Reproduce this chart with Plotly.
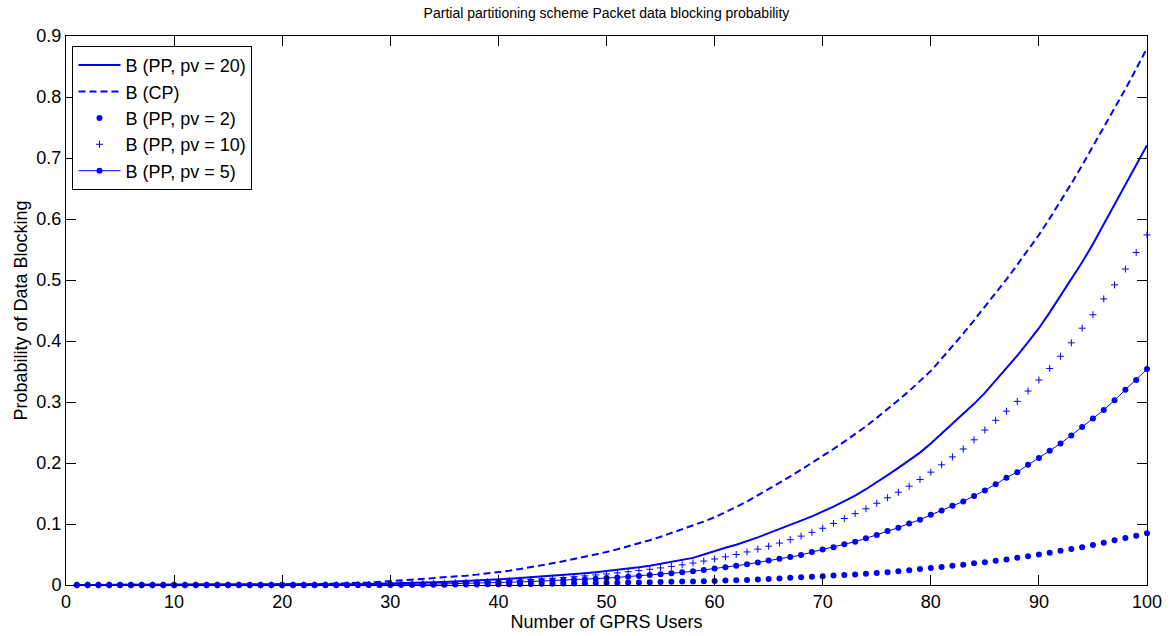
import plotly.graph_objects as go

users = list(range(1, 101))

b_cp = [
    0, 0, 0, 0, 0, 0, 0, 0, 0.0001, 0.0001,
    0.0001, 0.0002, 0.0002, 0.0003, 0.0003, 0.0004, 0.0005, 0.0006, 0.0007, 0.0008,
    0.0010, 0.0012, 0.0014, 0.0017, 0.0020, 0.0026, 0.0032, 0.0040, 0.0050, 0.0062,
    0.0072, 0.0083, 0.0095, 0.0108, 0.0122, 0.0137, 0.0153, 0.0170, 0.0189, 0.0210,
    0.0235, 0.0262, 0.0290, 0.0322, 0.0356, 0.0390, 0.0425, 0.0462, 0.0500, 0.0540,
    0.0585, 0.0632, 0.0682, 0.0735, 0.0790, 0.0850, 0.0910, 0.0970, 0.1040, 0.1110,
    0.119, 0.128, 0.137, 0.147, 0.158, 0.168, 0.178, 0.189, 0.200, 0.211,
    0.223, 0.235, 0.247, 0.260, 0.274, 0.288, 0.303, 0.318, 0.334, 0.351,
    0.371, 0.391, 0.412, 0.434, 0.456, 0.478, 0.501, 0.525, 0.549, 0.574,
    0.601, 0.629, 0.658, 0.688, 0.719, 0.750, 0.781, 0.813, 0.846, 0.880,
]

b_pv20 = [
    0, 0, 0, 0, 0, 0, 0, 0, 0, 0,
    0, 0, 0.0001, 0.0001, 0.0001, 0.0001, 0.0001, 0.0002, 0.0002, 0.0002,
    0.0003, 0.0004, 0.0005, 0.0006, 0.0008, 0.0010, 0.0012, 0.0015, 0.0018, 0.0022,
    0.0027, 0.0032, 0.0038, 0.0044, 0.0051, 0.0058, 0.0066, 0.0074, 0.0083, 0.0092,
    0.0102, 0.0113, 0.0125, 0.0137, 0.0150, 0.0164, 0.0178, 0.0193, 0.0210, 0.0228,
    0.0248, 0.0268, 0.0290, 0.0315, 0.0345, 0.0380, 0.0410, 0.0445, 0.0500, 0.0560,
    0.0610, 0.0660, 0.0715, 0.0780, 0.0850, 0.0915, 0.0985, 0.1055, 0.1125, 0.1200,
    0.1285, 0.1375, 0.1465, 0.1570, 0.1680, 0.1800, 0.1920, 0.2040, 0.2170, 0.2320,
    0.2480, 0.2640, 0.2810, 0.2970, 0.3150, 0.3350, 0.3560, 0.3760, 0.3980, 0.4210,
    0.4470, 0.4740, 0.5010, 0.5290, 0.5590, 0.5910, 0.6230, 0.6550, 0.6880, 0.7210,
]

b_pv2 = [
    0, 0, 0, 0, 0, 0, 0, 0, 0, 0,
    0, 0, 0, 0, 0, 0, 0, 0, 0, 0,
    0.0000, 0.0000, 0.0001, 0.0001, 0.0001, 0.0001, 0.0002, 0.0002, 0.0002, 0.0003,
    0.0003, 0.0004, 0.0004, 0.0005, 0.0006, 0.0007, 0.0008, 0.0009, 0.0011, 0.0012,
    0.0014, 0.0016, 0.0018, 0.0020, 0.0022, 0.0024, 0.0026, 0.0029, 0.0032, 0.0035,
    0.0037, 0.0040, 0.0043, 0.0046, 0.0050, 0.0053, 0.0056, 0.0059, 0.0062, 0.0066,
    0.0072, 0.0078, 0.0084, 0.0091, 0.0098, 0.0107, 0.0117, 0.0128, 0.0136, 0.0145,
    0.0154, 0.0164, 0.0174, 0.0184, 0.0195, 0.0210, 0.0226, 0.0243, 0.0261, 0.0280,
    0.0297, 0.0315, 0.0334, 0.0355, 0.0375, 0.0396, 0.0420, 0.0445, 0.0470, 0.0500,
    0.0530, 0.0560, 0.0590, 0.0620, 0.0656, 0.0694, 0.0735, 0.0770, 0.0808, 0.0847,
]

b_pv10 = [
    0, 0, 0, 0, 0, 0, 0, 0, 0, 0,
    0, 0, 0, 0, 0, 0, 0, 0, 0, 0,
    0.0001, 0.0002, 0.0002, 0.0003, 0.0004, 0.0005, 0.0006, 0.0008, 0.0010, 0.0012,
    0.0015, 0.0018, 0.0022, 0.0026, 0.0030, 0.0035, 0.0041, 0.0047, 0.0054, 0.0062,
    0.0071, 0.0080, 0.0090, 0.0100, 0.0111, 0.0123, 0.0136, 0.0150, 0.0165, 0.0181,
    0.0198, 0.0217, 0.0237, 0.0258, 0.0280, 0.0305, 0.0331, 0.0360, 0.0392, 0.0426,
    0.0462, 0.0500, 0.0542, 0.0588, 0.0636, 0.0688, 0.0743, 0.0801, 0.0863, 0.0930,
    0.101, 0.109, 0.117, 0.125, 0.134, 0.143, 0.152, 0.162, 0.173, 0.185,
    0.197, 0.210, 0.223, 0.238, 0.254, 0.270, 0.285, 0.301, 0.318, 0.336,
    0.355, 0.375, 0.397, 0.421, 0.443, 0.469, 0.492, 0.518, 0.545, 0.574,
]

b_pv5 = [
    0, 0, 0, 0, 0, 0, 0, 0, 0, 0,
    0, 0, 0, 0, 0, 0, 0, 0, 0, 0,
    0.0000, 0.0001, 0.0001, 0.0001, 0.0002, 0.0002, 0.0003, 0.0004, 0.0005, 0.0006,
    0.0008, 0.0010, 0.0012, 0.0014, 0.0017, 0.0020, 0.0024, 0.0028, 0.0033, 0.0039,
    0.0044, 0.0050, 0.0057, 0.0064, 0.0071, 0.0078, 0.0086, 0.0094, 0.0103, 0.0113,
    0.0125, 0.0137, 0.0149, 0.0162, 0.0176, 0.0191, 0.0207, 0.0224, 0.0245, 0.0270,
    0.0292, 0.0315, 0.0340, 0.0370, 0.0400, 0.0430, 0.0460, 0.0490, 0.0540, 0.0580,
    0.062, 0.067, 0.071, 0.0765, 0.082, 0.0885, 0.094, 0.101, 0.107, 0.115,
    0.122, 0.130, 0.137, 0.146, 0.155, 0.165, 0.176, 0.185, 0.197, 0.208,
    0.220, 0.232, 0.245, 0.259, 0.273, 0.287, 0.303, 0.320, 0.336, 0.354,
]

x_ticks = [0, 10, 20, 30, 40, 50, 60, 70, 80, 90, 100]
y_ticks = [0, 0.1, 0.2, 0.3, 0.4, 0.5, 0.6, 0.7, 0.8, 0.9]
y_ticklabels = ["0", "0.1", "0.2", "0.3", "0.4", "0.5", "0.6", "0.7", "0.8", "0.9"]

BLUE = "#0000ff"
FONT = "Liberation Sans, Arial, sans-serif"
FS = 18

fig = go.Figure()
fig.add_trace(go.Scatter(x=users, y=b_pv20, mode="lines", name="B (PP, pv = 20)",
                         legendgroup="a", line=dict(color=BLUE, width=2)))
fig.add_trace(go.Scatter(x=users, y=b_cp, mode="lines", name="B (CP)",
                         legendgroup="b", line=dict(color=BLUE, width=2, dash="7px,4px")))
fig.add_trace(go.Scatter(x=users, y=b_pv2, mode="markers", name="B (PP, pv = 2)",
                         legendgroup="c", cliponaxis=False,
                         marker=dict(color=BLUE, size=6, symbol="circle")))
fig.add_trace(go.Scatter(x=users, y=b_pv10, mode="markers", name="B (PP, pv = 10)",
                         legendgroup="d", cliponaxis=False,
                         marker=dict(color=BLUE, size=5, symbol="cross-thin",
                                     line=dict(color=BLUE, width=1))))
fig.add_trace(go.Scatter(x=users, y=b_pv5, mode="lines+markers", name="B (PP, pv = 5)",
                         legendgroup="e", cliponaxis=False,
                         line=dict(color=BLUE, width=1),
                         marker=dict(color=BLUE, size=6, symbol="circle")))

axis_common = dict(showgrid=False, zeroline=False, showline=True, linecolor="black",
                   linewidth=1, mirror="ticks", ticks="inside", ticklen=10,
                   tickcolor="black", tickwidth=1,
                   tickfont=dict(family=FONT, size=FS, color="black"))

fig.update_layout(
    width=1174, height=636,
    margin=dict(l=66, r=19, t=36, b=51),
    paper_bgcolor="white", plot_bgcolor="white",
    font=dict(family=FONT, size=FS, color="black"),
    title=dict(text="Partial partitioning scheme Packet data blocking probability",
               x=0.5, xref="paper", xanchor="center",
               y=1 - 13 / 636, yref="container", yanchor="middle",
               font=dict(family=FONT, size=14, color="black")),
    xaxis=dict(range=[0, 100], tickvals=x_ticks,
               title=dict(text="Number of GPRS Users", standoff=0,
                          font=dict(family=FONT, size=FS, color="black")),
               **axis_common),
    yaxis=dict(range=[0, 0.9], tickvals=y_ticks, ticktext=y_ticklabels,
               title=dict(text="Probability of Data Blocking", standoff=4,
                          font=dict(family=FONT, size=FS, color="black")),
               **axis_common),
    legend=dict(x=0.006, y=0.982, xanchor="left", yanchor="top",
                bordercolor="black", borderwidth=1, bgcolor="white",
                font=dict(family=FONT, size=FS, color="black"),
                itemwidth=42, tracegroupgap=4, traceorder="normal"),
    showlegend=True,
)

fig.write_html("out.html")
